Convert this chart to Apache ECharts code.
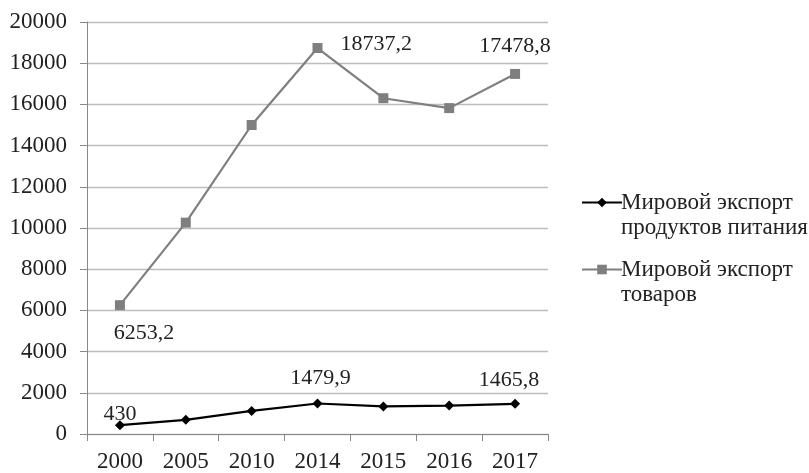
<!DOCTYPE html>
<html><head><meta charset="utf-8">
<script src="https://cdn.jsdelivr.net/npm/echarts@6/dist/echarts.min.js"></script>
<style>html,body{margin:0;padding:0;background:#fff}#c{width:809px;height:473px}</style>
</head><body><div id="c"></div>
<script>
const categories = ['2000','2005','2010','2014','2015','2016','2017'];
const foodExport = [430, 690, 1120, 1479.9, 1340, 1380, 1465.8];
const goodsExport = [6253.2, 10260, 15000, 18737.2, 16300, 15820, 17478.8];
const foodName = 'Мировой экспорт\nпродуктов питания';
const goodsName = 'Мировой экспорт\nтоваров';
const yTicks = [0, 20000, 2000];

const FONT = 'Liberation Serif';
const fmt = v => String(v).replace('.', ',');

const foodLabels = {0: {position: 'top', distance: -5, offset: [0, 0]},
                    3: {position: 'top', distance: 9, offset: [3, 0]},
                    6: {position: 'top', distance: 8, offset: [-6, 0]}};
const goodsLabels = {0: {position: 'bottom', distance: 12, offset: [24, 0]},
                     3: {position: 'right', distance: 18, offset: [0, -4]},
                     6: {position: 'top', distance: 12, offset: [0, 0]}};

function build(vals, labels) {
  return vals.map((v, i) => labels[i]
    ? {value: v, label: Object.assign({show: true, formatter: p => fmt(p.value)}, labels[i])}
    : {value: v});
}

const chart = echarts.init(document.getElementById('c'));
chart.setOption({
  animation: false,
  textStyle: {fontFamily: FONT},
  grid: {left: 87, right: 261, top: 22, bottom: 39, containLabel: false},
  legend: {
    orient: 'vertical', left: 576, top: 160, itemGap: -8,
    itemWidth: 40, itemHeight: 12,
    formatter: n => '\n' + n,
    textStyle: {fontFamily: FONT, fontSize: 23, color: '#222', lineHeight: 25, padding: [0, 0, 0, -6]},
    data: [foodName, goodsName]
  },
  xAxis: {
    type: 'category', data: categories, boundaryGap: true,
    axisLine: {show: true, lineStyle: {color: '#888', width: 1}},
    axisTick: {show: true, length: 7, lineStyle: {color: '#888'}},
    axisLabel: {fontFamily: FONT, fontSize: 23, color: '#222', margin: 16}
  },
  yAxis: {
    type: 'value', min: yTicks[0], max: yTicks[1], interval: yTicks[2],
    axisLine: {show: true, lineStyle: {color: '#888', width: 1}},
    axisTick: {show: true, length: 7, lineStyle: {color: '#888'}},
    axisLabel: {fontFamily: FONT, fontSize: 23, color: '#222', margin: 20, formatter: v => String(v)},
    splitLine: {lineStyle: {color: '#bdbdbd', width: 1.3}}
  },
  series: [
    {name: foodName, type: 'line', data: build(foodExport, foodLabels),
     symbol: 'diamond', symbolSize: 10,
     lineStyle: {color: '#000', width: 2.2}, itemStyle: {color: '#000'},
     label: {fontFamily: FONT, fontSize: 22, color: '#222'}},
    {name: goodsName, type: 'line', data: build(goodsExport, goodsLabels),
     symbol: 'rect', symbolSize: 10,
     lineStyle: {color: '#7f7f7f', width: 2.2}, itemStyle: {color: '#7f7f7f'},
     label: {fontFamily: FONT, fontSize: 22, color: '#222'}}
  ]
});
</script></body></html>
